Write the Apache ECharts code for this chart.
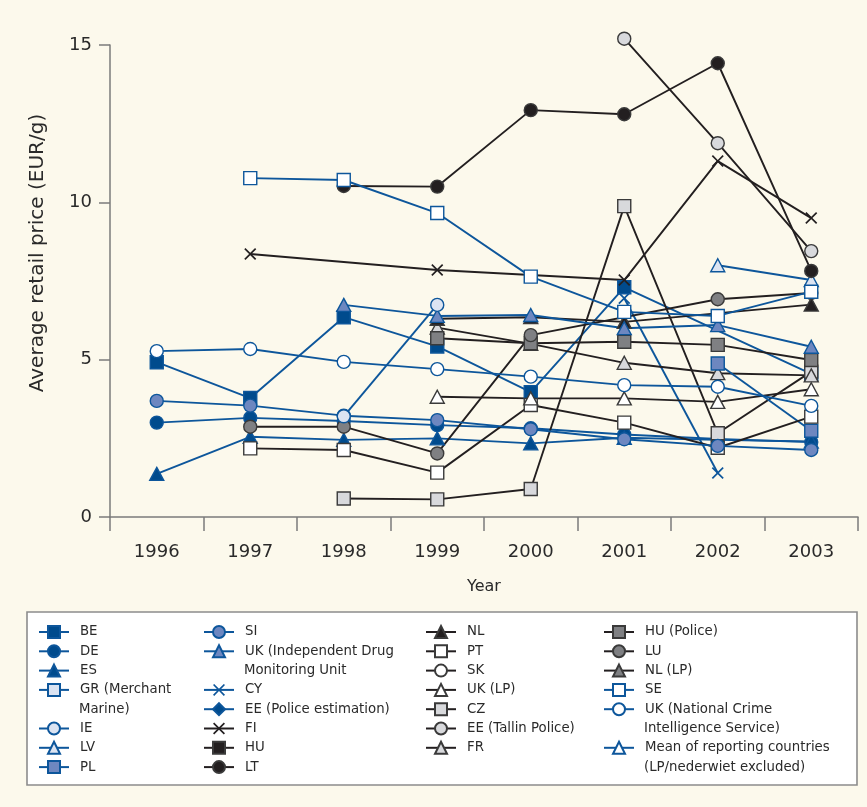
<!DOCTYPE html>
<html><head><meta charset="utf-8">
<script src="https://cdn.jsdelivr.net/npm/echarts@6/dist/echarts.min.js"></script>
<style>html,body{margin:0;padding:0;background:#FCF9EC;}#c{width:867px;height:807px;}</style>
</head><body><div id="c"></div><script>
// ---- data ----
const years = ['1996','1997','1998','1999','2000','2001','2002','2003'];
const yTicks = [0, 5, 10, 15];
const BE   = [4.92, 3.78, 6.35, 5.42, 3.97, 7.30, null, 4.55];
const DE   = [3.00, 3.15, 3.05, 2.92, 2.82, 2.62, 2.48, 2.38];
const ES   = [1.37, 2.55, 2.45, 2.50, 2.34, 2.52, 2.45, 2.40];
const GR   = [null, null, null, null, null, null, null, null];
const IE   = [null, null, 3.20, 6.74, null, null, null, null];
const LV   = [null, null, null, null, null, null, 8.00, 7.53];
const PL   = [null, null, null, null, null, null, 4.88, 2.74];
const SI   = [3.69, 3.54, 3.22, 3.08, 2.79, 2.47, 2.26, 2.13];
const UK_IDMU = [null, null, 6.74, 6.39, 6.42, 6.00, 6.10, 5.41];
const CY   = [null, null, null, null, null, 6.95, 1.40, null];
const EE_PE = [null, null, null, null, null, null, null, null];
const FI   = [null, 8.36, null, 7.85, null, 7.53, 11.31, 9.50];
const HU   = [null, null, null, null, null, null, null, null];
const LT   = [null, null, 10.52, 10.50, 12.93, 12.80, 14.42, 7.82];
const NL   = [null, null, null, 6.30, 6.35, 6.20, null, 6.75];
const PT   = [null, 2.18, 2.13, 1.41, 3.56, 3.00, 2.20, 3.19];
const SK   = [null, null, null, null, null, null, null, null];
const UK_LP = [null, null, null, 3.82, 3.77, 3.77, 3.66, 4.06];
const CZ   = [null, null, 0.59, 0.56, 0.89, 9.88, 2.66, 4.62];
const EE_TP = [null, null, null, null, null, 15.20, 11.88, 8.45];
const FR   = [null, null, null, 6.02, 5.50, 4.90, 4.57, 4.50];
const HU_P = [null, null, null, 5.68, 5.52, 5.57, 5.47, 4.99];
const LU   = [null, 2.87, 2.87, 2.02, 5.78, null, 6.92, 7.12];
const NL_LP = [null, null, null, null, null, null, null, null];
const SE   = [null, 10.77, 10.71, 9.66, 7.64, 6.52, 6.39, 7.16];
const UK_NCIS = [5.27, 5.34, 4.93, 4.70, 4.46, 4.19, 4.14, 3.53];
const MEAN = [null, null, null, null, null, null, null, null];

// legend columns (series names)
const N_GR = 'GR (Merchant Marine)';
const N_UKI = 'UK (Independent Drug Monitoring Unit';
const N_UKN = 'UK (National Crime Intelligence Service)';
const N_MEAN = 'Mean of reporting countries (LP/nederwiet excluded)';
const firstLine = {};
firstLine[N_GR] = 'GR (Merchant'; firstLine[N_UKI] = 'UK (Independent Drug';
firstLine[N_UKN] = 'UK (National Crime'; firstLine[N_MEAN] = 'Mean of reporting countries';
const contLines = [['Marine)', 0, 4], ['Monitoring Unit', 1, 2], ['Intelligence Service)', 3, 5], ['(LP/nederwiet excluded)', 3, 7]];
const col1a = ['BE', 'DE', 'ES', N_GR];
const col1b = ['IE', 'LV', 'PL'];
const col2a = ['SI', N_UKI];
const col2b = ['CY', 'EE (Police estimation)', 'FI', 'HU', 'LT'];
const col3  = ['NL', 'PT', 'SK', 'UK (LP)', 'CZ', 'EE (Tallin Police)', 'FR'];
const col4a = ['HU (Police)', 'LU', 'NL (LP)', 'SE', N_UKN];
const col4b = [N_MEAN];

// ---- styles ----
const LINE_BLUE = '#0D569B';
const DARK_BLUE = '#004B8D';
const MID_BLUE = '#6D87C0';
const LIGHT_BLUE = '#DCE4F2';
const BLACK = '#231F20';
const GRAY = '#7F8083';
const LIGHT_GRAY = '#D8D9DC';
const BORDER_DARK = '#3A3A3A';
const TEXT = '#2A2A2A';
const XPATH = 'path://M0,1L1,0L5,4L9,0L10,1L6,5L10,9L9,10L5,6L1,10L0,9L4,5Z';
const FONT = 'DejaVu Sans';

const series = [];
function add(name, data, symbol, fill, kind, size) {
  const line = kind === 'blue' ? LINE_BLUE : BLACK;
  const isX = symbol.indexOf('path') === 0;
  const border = kind === 'blue' ? LINE_BLUE : BORDER_DARK;
  series.push({
    name: name, type: 'line', data: data, symbol: symbol, symbolSize: size,
    connectNulls: true, showAllSymbol: true, animation: false, silent: true, clip: false,
    lineStyle: { color: line, width: 1.9 },
    itemStyle: { color: fill, borderColor: isX ? fill : border, borderWidth: isX ? 0 : 1.4, opacity: 1 },
    emphasis: { disabled: true }
  });
}
const SQ = 13, CI = 13, TR = [14, 13], XS = 12;
add('CY', CY, XPATH, LINE_BLUE, 'blue', XS);
add('BE', BE, 'rect', DARK_BLUE, 'blue', SQ);
add('DE', DE, 'circle', DARK_BLUE, 'blue', CI);
add('ES', ES, 'triangle', DARK_BLUE, 'blue', TR);
add(N_GR, GR, 'rect', LIGHT_BLUE, 'blue', SQ);
add('CZ', CZ, 'rect', LIGHT_GRAY, 'black', SQ);
add('FR', FR, 'triangle', LIGHT_GRAY, 'black', TR);
add('PL', PL, 'rect', MID_BLUE, 'blue', SQ);
add('HU (Police)', HU_P, 'rect', GRAY, 'black', SQ);
add('PT', PT, 'rect', '#FFFFFF', 'black', SQ);
add('LU', LU, 'circle', GRAY, 'black', CI);
add('SI', SI, 'circle', MID_BLUE, 'blue', CI);
add('NL', NL, 'triangle', BLACK, 'black', TR);
add(N_UKI, UK_IDMU, 'triangle', MID_BLUE, 'blue', TR);
add('IE', IE, 'circle', LIGHT_BLUE, 'blue', CI);
add('LV', LV, 'triangle', LIGHT_BLUE, 'blue', TR);
add('EE (Police estimation)', EE_PE, 'diamond', DARK_BLUE, 'blue', [16, 16]);
add('HU', HU, 'rect', BLACK, 'black', SQ);
add('LT', LT, 'circle', BLACK, 'black', CI);
add('SK', SK, 'circle', '#FFFFFF', 'black', CI);
add('UK (LP)', UK_LP, 'triangle', '#FFFFFF', 'black', TR);
add('NL (LP)', NL_LP, 'triangle', GRAY, 'black', TR);
add('EE (Tallin Police)', EE_TP, 'circle', LIGHT_GRAY, 'black', CI);
add('FI', FI, XPATH, BLACK, 'black', XS);
add('SE', SE, 'rect', '#FFFFFF', 'blue', SQ);
add(N_UKN, UK_NCIS, 'circle', '#FFFFFF', 'blue', CI);
add(N_MEAN, MEAN, 'triangle', '#FFFFFF', 'blue', TR);

// ---- legend layout ----
const ROW = 19.3, FIRST = 632, LX = [38, 203, 425, 603];
function leg(names, col, row) {
  return {
    orient: 'vertical', left: LX[col], top: FIRST - ROW / 2 + row * ROW, padding: 0,
    itemWidth: 30, itemHeight: 15, itemGap: 0, selectedMode: false,
    data: names,
    formatter: function (n) { return firstLine[n] || n; },
    textStyle: { fontFamily: FONT, fontSize: 13.3, color: TEXT, lineHeight: ROW, padding: [0, 0, 0, 6] }
  };
}
const legends = [leg(col1a, 0, 0), leg(col1b, 0, 5), leg(col2a, 1, 0), leg(col2b, 1, 3),
                 leg(col3, 2, 0), leg(col4a, 3, 0), leg(col4b, 3, 6)];
const graphics = [{ type: 'rect', z: 0, shape: { x: 27, y: 612, width: 830, height: 173 },
  style: { fill: '#FFFFFF', stroke: '#8C8C8C', lineWidth: 1.6 } }];
contLines.forEach(function (c) {
  graphics.push({ type: 'text', z: 5, x: LX[c[1]] + 41, y: FIRST + c[2] * ROW,
    style: { text: c[0], fontFamily: FONT, fontSize: 13.3, fill: TEXT, verticalAlign: 'middle', align: 'left' } });
});

const chart = echarts.init(document.getElementById('c'), null, { renderer: 'canvas' });
chart.setOption({
  backgroundColor: '#FCF9EC',
  animation: false,
  grid: { left: 110, right: 9, top: 45, bottom: 290, containLabel: false },
  xAxis: {
    type: 'category', data: years, boundaryGap: true,
    name: 'Year', nameLocation: 'middle', nameGap: 62,
    nameTextStyle: { fontFamily: FONT, fontSize: 16, color: TEXT },
    axisLine: { lineStyle: { color: '#7B7B7B', width: 1.5 } },
    axisTick: { show: true, length: 14, lineStyle: { color: '#7B7B7B', width: 1.5 } },
    axisLabel: { fontFamily: FONT, fontSize: 18, color: TEXT, margin: 26 },
    splitLine: { show: false }
  },
  yAxis: {
    type: 'value', min: yTicks[0], max: yTicks[yTicks.length - 1], interval: 5,
    name: 'Average retail price (EUR/g)', nameLocation: 'middle', nameGap: 62,
    nameTextStyle: { fontFamily: FONT, fontSize: 20, color: TEXT, padding: [0, 0, 0, 56] },
    axisLine: { show: true, lineStyle: { color: '#7B7B7B', width: 1.5 } },
    axisTick: { show: true, length: 11, lineStyle: { color: '#7B7B7B', width: 1.5 } },
    axisLabel: { fontFamily: FONT, fontSize: 18, color: TEXT, margin: 18 },
    splitLine: { show: false }
  },
  legend: legends,
  graphic: graphics,
  series: series
});
</script></body></html>
